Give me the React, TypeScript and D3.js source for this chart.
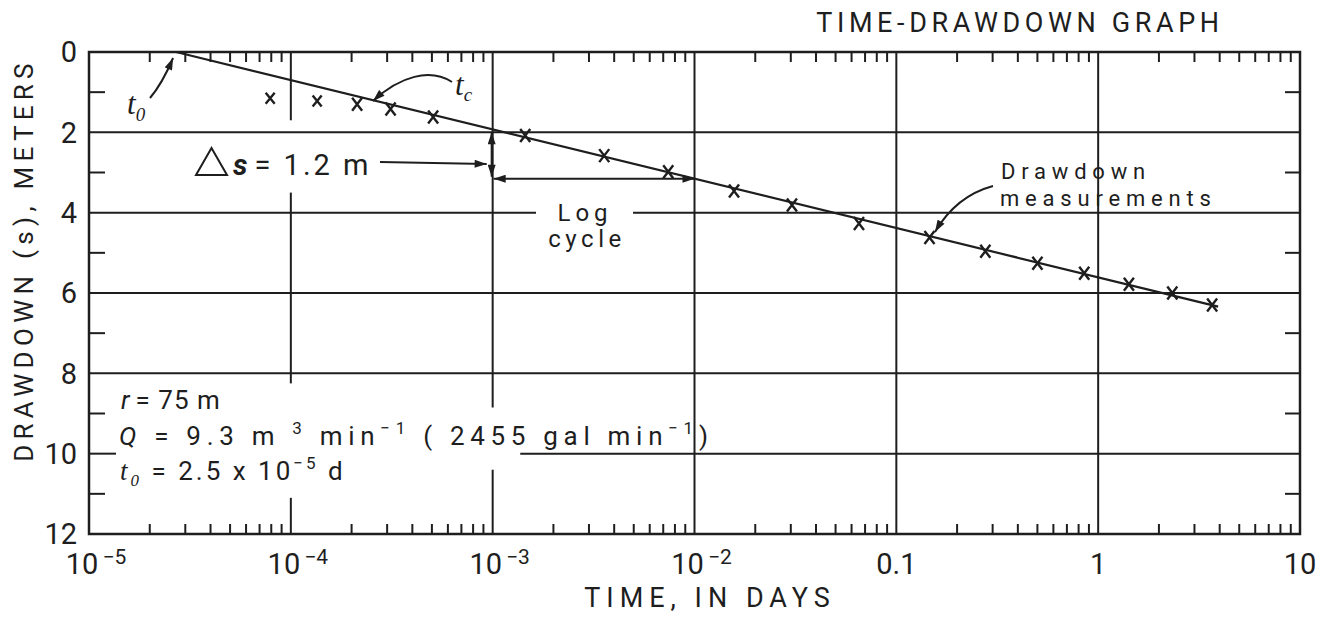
import React from 'react';
import * as d3 from 'd3';

// ---- data ----
const timeDays = [7.9e-5, 1.35e-4, 2.13e-4, 3.12e-4, 5.07e-4, 1.45e-3, 3.57e-3, 7.41e-3, 1.57e-2, 3.04e-2, 6.53e-2, 0.146, 0.276, 0.5, 0.853, 1.42, 2.33, 3.67];
const drawdownM = [1.15, 1.22, 1.3, 1.42, 1.62, 2.08, 2.58, 2.98, 3.46, 3.81, 4.27, 4.62, 4.96, 5.26, 5.51, 5.78, 6.0, 6.3];
const fitLineT = [2.7e-5, 3.93];
const fitLineS = [0, 6.34];
const xDecades = [1e-5, 1e-4, 1e-3, 1e-2, 0.1, 1, 10];
const xTickBase = ['10', '10', '10', '10', '0.1', '1', '10'];
const xTickExp = ['\u22125', '\u22124', '\u22123', '\u22122', '', '', ''];
const yMajorTicks = [0, 2, 4, 6, 8, 10, 12];
const yMinorTicks = [1, 3, 5, 7, 9, 11];
const minorMultipliers = [2, 3, 4, 5, 6, 7, 8, 9];
// vertical grid segments: [time, sFrom, sTo]
const vGridSegments: [number, number, number][] = [
  [1e-4, 0, 1.7], [1e-4, 3.5, 8.25], [1e-4, 11.1, 12],
  [1e-3, 0, 8.85], [1e-3, 10.4, 12],
  [1e-2, 0, 12], [0.1, 0, 12], [1, 0, 12],
];
// horizontal grid segments: [s, tFrom, tTo]
const hGridSegments: [number, number, number][] = [
  [2, 1e-5, 10], [4, 1e-5, 1.64e-3], [4, 4.96e-3, 10], [6, 1e-5, 10], [8, 1e-5, 10], [10, 1.37e-3, 10],
];
const deltaS = '1.2';
const logCycleFrom = 1e-3;
const logCycleTo = 1e-2;

const INK = '#1e1e1e';
const FONT = "Roboto, 'DejaVu Sans', sans-serif";
const SERIF = "'Liberation Serif', 'DejaVu Serif', serif";

export default function App() {
  const W = 1330, H = 617;
  const x = d3.scaleLog().domain([1e-5, 10]).range([89, 1300]);
  const y = d3.scaleLinear().domain([0, 12]).range([52, 534]);
  const [x0, x1] = x.range();
  const [y0, y1] = y.range();

  const sOnLine = (t: number) => {
    const a = Math.log10(fitLineT[0]), b = Math.log10(fitLineT[1]);
    return fitLineS[0] + (fitLineS[1] - fitLineS[0]) * (Math.log10(t) - a) / (b - a);
  };

  const linePath = d3.line<[number, number]>().x(d => x(d[0])).y(d => y(d[1]))(
    fitLineT.map((t, i) => [t, fitLineS[i]] as [number, number])
  )!;

  const minorTimes: number[] = [];
  xDecades.slice(0, -1).forEach(d => minorMultipliers.forEach(k => minorTimes.push(k * d)));

  const cycS = sOnLine(logCycleTo);
  const xc = x(logCycleFrom);

  return (
    <svg width={W} height={H} style={{ position: 'absolute', left: 0, top: 0, background: '#fff' }}
      fontFamily={FONT} fill={INK}>
      <defs>
        <marker id="ah" viewBox="0 0 12 8" refX="12" refY="4" markerWidth="13" markerHeight="8"
          markerUnits="userSpaceOnUse" orient="auto-start-reverse">
          <path d="M0,0 L12,4 L0,8 Z" fill={INK} />
        </marker>
      </defs>
      <rect x={0} y={0} width={W} height={H} fill="#fff" />

      {/* grid */}
      <g stroke={INK} strokeWidth={2}>
        {vGridSegments.map(([t, a, b], i) => (
          <line key={'v' + i} x1={x(t)} x2={x(t)} y1={y(a)} y2={y(b)} />
        ))}
        {hGridSegments.map(([s, a, b], i) => (
          <line key={'h' + i} x1={x(a)} x2={x(b)} y1={y(s)} y2={y(s)} />
        ))}
      </g>

      {/* minor ticks */}
      <g stroke={INK} strokeWidth={2}>
        {minorTimes.map((t, i) => (
          <g key={'mt' + i}>
            <line x1={x(t)} x2={x(t)} y1={y0} y2={y0 + 10} />
            <line x1={x(t)} x2={x(t)} y1={y1} y2={y1 - 10} />
          </g>
        ))}
        {yMinorTicks.map((s, i) => (
          <g key={'ms' + i}>
            <line x1={x0} x2={x0 + 16} y1={y(s)} y2={y(s)} />
            <line x1={x1} x2={x1 - 15} y1={y(s)} y2={y(s)} />
          </g>
        ))}
        <line x1={x0} x2={x0 + 27} y1={y(10)} y2={y(10)} />
      </g>

      {/* frame */}
      <rect x={x0} y={y0} width={x1 - x0} height={y1 - y0} fill="none" stroke={INK} strokeWidth={2.5} />

      {/* fitted line */}
      <path d={linePath} fill="none" stroke={INK} strokeWidth={2.2} />

      {/* measurements */}
      <g stroke={INK} strokeWidth={2.4} fill="none">
        {timeDays.map((t, i) => {
          const px = x(t), py = y(drawdownM[i]);
          const hw = i < 2 ? 4.5 : 5, hh = i < 2 ? 5.5 : 6.5;
          return <path key={'p' + i} d={`M${px - hw},${py - hh}L${px + hw},${py + hh}M${px + hw},${py - hh}L${px - hw},${py + hh}`} />;
        })}
      </g>

      {/* axis tick labels */}
      <g fontSize={29}>
        {yMajorTicks.map(s => (
          <text key={'yl' + s} x={77} y={y(s)} dy="0.36em" textAnchor="end">{s}</text>
        ))}
        {xDecades.map((t, i) => (
          <text key={'xl' + i} x={x(t) + (xTickExp[i] ? 7 : 0)} y={574} textAnchor="middle">
            {xTickBase[i]}
            {xTickExp[i] ? <tspan dy={-10} fontSize={21} dx={4}>{xTickExp[i]}</tspan> : null}
          </text>
        ))}
      </g>

      {/* titles */}
      <text x={1020} y={32} textAnchor="middle" fontSize={27} letterSpacing={4.6}>TIME-DRAWDOWN GRAPH</text>
      <text x={710} y={607} textAnchor="middle" fontSize={27} letterSpacing={6}>TIME, IN DAYS</text>
      <text transform="translate(33,260) rotate(-90)" textAnchor="middle" fontSize={26} letterSpacing={5.3}>
        DRAWDOWN (s), METERS
      </text>

      {/* t0 annotation */}
      <text x={127} y={114} fontFamily={SERIF} fontStyle="italic" fontSize={31}>t<tspan fontSize={19} dy={7}>0</tspan></text>
      <path d={`M150,98 Q162,84 ${x(fitLineT[0]) - 3},${y(0) + 6}`} fill="none" stroke={INK} strokeWidth={2} markerEnd="url(#ah)" />

      {/* tc annotation */}
      <text x={455} y={95} fontFamily={SERIF} fontStyle="italic" fontSize={31}>t<tspan fontSize={19} dy={6}>c</tspan></text>
      <path d="M452,82 C430,68 400,76 373,101" fill="none" stroke={INK} strokeWidth={2} markerEnd="url(#ah)" />

      {/* delta s annotation */}
      <path d="M196,175 L211.5,148 L227,175 Z" fill="none" stroke={INK} strokeWidth={2} />
      <text x={233} y={175} fontSize={29} letterSpacing={3}>
        <tspan fontStyle="italic" fontWeight="bold">s</tspan><tspan dx={4}>= {deltaS} m</tspan>
      </text>
      <line x1={380} y1={162} x2={xc - 6} y2={164} stroke={INK} strokeWidth={2} markerEnd="url(#ah)" />

      {/* double arrows */}
      <line x1={xc - 1} x2={xc - 1} y1={y(2)} y2={y(cycS) - 2} stroke={INK} strokeWidth={2}
        markerStart="url(#ah)" markerEnd="url(#ah)" />
      <line x1={xc + 1} x2={x(logCycleTo)} y1={y(cycS)} y2={y(cycS)} stroke={INK} strokeWidth={2}
        markerStart="url(#ah)" markerEnd="url(#ah)" />
      <text x={585} y={221} textAnchor="middle" fontSize={24} letterSpacing={5}>Log</text>
      <text x={587} y={247} textAnchor="middle" fontSize={24} letterSpacing={4.5}>cycle</text>

      {/* drawdown measurements annotation */}
      <text x={1001} y={179} fontSize={22} letterSpacing={5.8}>Drawdown</text>
      <text x={1000} y={206} fontSize={22} letterSpacing={5.8}>measurements</text>
      <path d="M993,186 Q956,196 935,232" fill="none" stroke={INK} strokeWidth={2} markerEnd="url(#ah)" />

      {/* parameters block */}
      <g fontSize={26} letterSpacing={3}>
        <text x={121} y={409}>
          <tspan fontStyle="italic">r</tspan><tspan dx={3} letterSpacing={1}>= 75  m</tspan>
        </text>
        <text x={119} y={445} letterSpacing={5.7}>
          <tspan fontStyle="italic">Q</tspan>
          <tspan> = 9.3 m </tspan>
          <tspan dy={-11} fontSize={17}>3</tspan>
          <tspan dy={11}>  min</tspan>
          <tspan dy={-11} fontSize={17}>{'\u22121'}</tspan>
          <tspan dy={11}> ( 2455  gal  min</tspan>
          <tspan dy={-11} fontSize={17}>{'\u22121'}</tspan>
          <tspan dy={11}>)</tspan>
        </text>
        <text x={120} y={480}>
          <tspan fontFamily={SERIF} fontStyle="italic" fontSize={27}>t</tspan>
          <tspan fontFamily={SERIF} fontStyle="italic" fontSize={17} dy={6}>0</tspan>
          <tspan dy={-6}>  = 2.5 x 10</tspan>
          <tspan dy={-11} fontSize={17}>{'\u22125'}</tspan>
          <tspan dy={11}> d</tspan>
        </text>
      </g>
    </svg>
  );
}
